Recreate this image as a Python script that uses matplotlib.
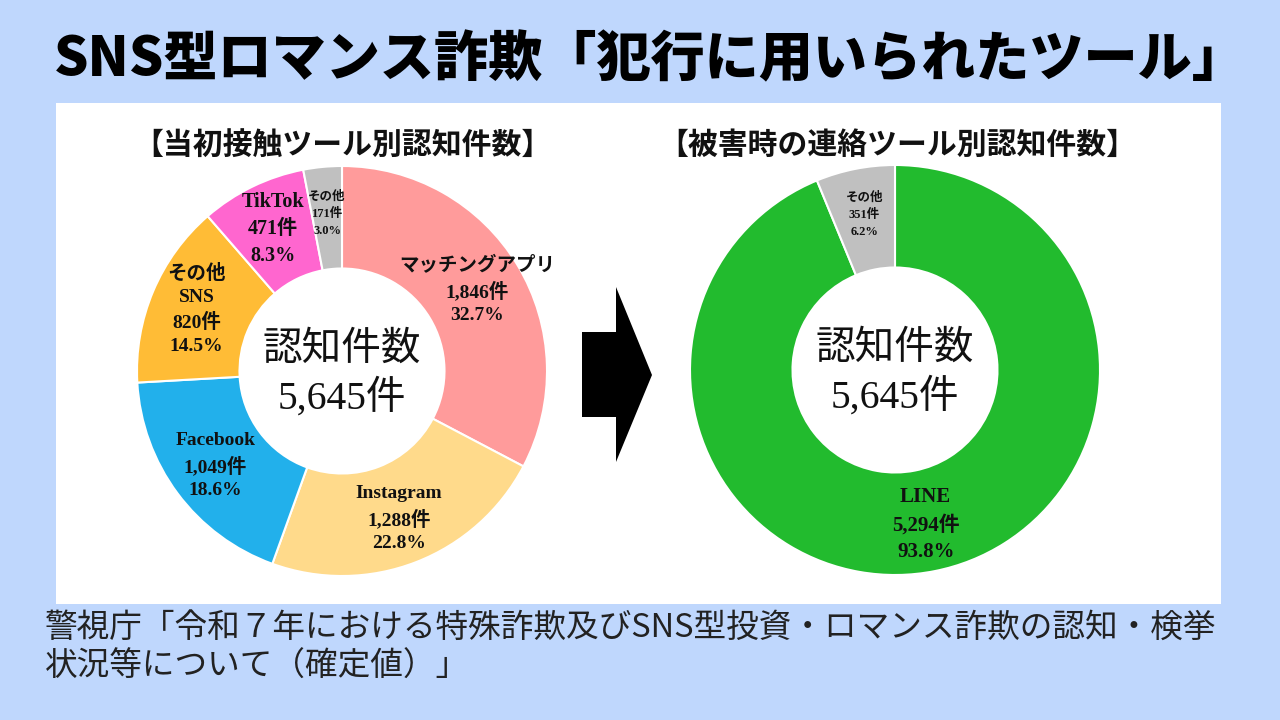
import matplotlib
matplotlib.use('Agg')
import matplotlib.pyplot as plt
from matplotlib.patches import Rectangle, Polygon

plt.rcParams['font.family'] = ['Noto Sans CJK JP', 'DejaVu Sans']

# ---- data ----
title = 'SNS型ロマンス詐欺「犯行に用いられたツール」'
source_lines = ['警視庁「令和７年における特殊詐欺及びSNS型投資・ロマンス詐欺の認知・検挙',
                '状況等について（確定値）」']

first_title = '【当初接触ツール別認知件数】'
first_labels = ['マッチングアプリ', 'Instagram', 'Facebook', 'その他\nSNS', 'TikTok', 'その他']
first_counts = [1846, 1288, 1049, 820, 471, 171]
first_colors = ['#ff9b9b', '#ffda8b', '#22b0eb', '#ffbc36', '#ff66cf', '#c0c0c0']
first_sizes = [14, 14, 14, 14, 14.5, 9]

contact_title = '【被害時の連絡ツール別認知件数】'
contact_labels = ['LINE', 'その他']
contact_counts = [5294, 351]
contact_colors = ['#22bb2e', '#c0c0c0']
contact_sizes = [15, 9]

W, H = 1280, 720
fig = plt.figure(figsize=(12.8, 7.2), dpi=100)
fig.patch.set_facecolor('#bfd7fd')

# background layer in pixel coordinates
bg = fig.add_axes([0, 0, 1, 1])
bg.set_xlim(0, W)
bg.set_ylim(H, 0)
bg.axis('off')
bg.add_patch(Rectangle((56, 103), 1165, 501, facecolor='white', edgecolor='none'))
# arrow between the two donuts
bg.add_patch(Polygon([(582, 332), (616, 332), (616, 287), (652, 375),
                      (616, 462), (616, 417), (582, 417)],
                     closed=True, facecolor='black', edgecolor='none'))

bg.text(650, 60, title, ha='center', va='center', fontsize=39, fontweight='heavy')
bg.text(45, 628, source_lines[0], ha='left', va='center', fontsize=23.5, color='#222222')
bg.text(45, 667, source_lines[1], ha='left', va='center', fontsize=23.5, color='#222222')
bg.text(342, 145, first_title, ha='center', va='center', fontsize=21.5, fontweight='bold', color='#111111')
bg.text(897, 145, contact_title, ha='center', va='center', fontsize=21.5, fontweight='bold', color='#111111')


def donut(cx, cy, labels, counts, colors, sizes):
    R = 205
    half = R * 1.1
    ax = fig.add_axes([(cx - half) / W, (H - cy - half) / H, 2 * half / W, 2 * half / H])
    total = sum(counts)
    texts = [f'{l}\n{c:,}件\n{c / total * 100:.1f}%' for l, c in zip(labels, counts)]
    wedges, txts = ax.pie(counts, labels=texts, colors=colors, startangle=90,
                          counterclock=False, radius=1, labeldistance=0.77,
                          wedgeprops=dict(width=0.5, edgecolor='white', linewidth=1.5),
                          textprops=dict(fontfamily=['Liberation Serif', 'Noto Sans CJK JP'],
                                         fontweight='bold', color='#111111'))
    for t, s in zip(txts, sizes):
        t.set_ha('center')
        t.set_va('center')
        t.set_fontsize(s)
        t.set_linespacing(1.45 if s > 10 else 1.55)
    ax.set_xlim(-1.1, 1.1)
    ax.set_ylim(-1.1, 1.1)
    ax.set_aspect('equal')
    ax.text(0, 0.11, '認知件数', ha='center', va='center', fontsize=28.5, color='#111111')
    ax.text(0, -0.13, f'{total:,}件', ha='center', va='center', fontsize=28.5,
            fontfamily=['Liberation Serif', 'Noto Sans CJK JP'], color='#111111')
    return ax


donut(342, 371, first_labels, first_counts, first_colors, first_sizes)
donut(895, 370, contact_labels, contact_counts, contact_colors, contact_sizes)

plt.savefig('out.png', dpi=100, facecolor=fig.get_facecolor())
